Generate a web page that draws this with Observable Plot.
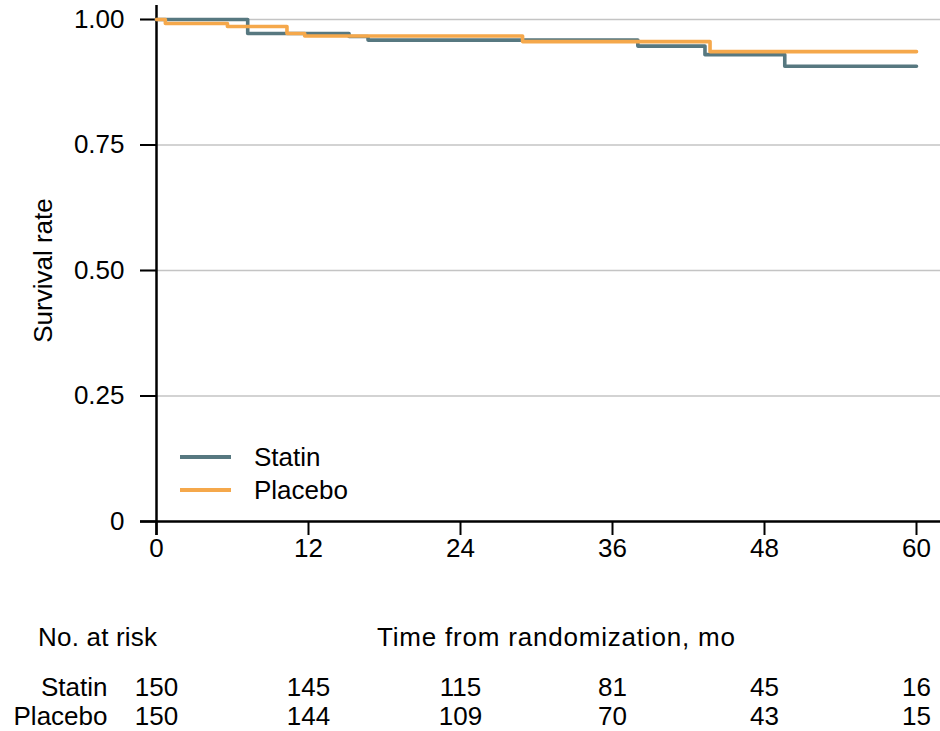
<!DOCTYPE html>
<html>
<head>
<meta charset="utf-8">
<script src="https://cdn.jsdelivr.net/npm/d3@7"></script>
<script src="https://cdn.jsdelivr.net/npm/@observablehq/plot@0.6"></script>
<style>
  body { margin: 0; background: white; }
  #wrap { position: relative; width: 940px; height: 731px; font-family: 'Liberation Sans', Arial, sans-serif; color: black; }
  .lbl { position: absolute; font-size: 26px; line-height: 30px; white-space: nowrap; }
  .leg { position: absolute; height: 4px; width: 51px; left: 180px; }
</style>
</head>
<body>
<div id="wrap">
  <div id="chart"></div>
  <div id="risk"></div>
</div>
<script>
// ---- data ----
const groups = ["Statin", "Placebo"];
const colors = ["#577880", "#f5a84b"];

const statinTime = [0, 7.2, 15.2, 16.7, 38.0, 43.3, 49.6, 60];
const statinSurv = [1.0, 0.972, 0.966, 0.959, 0.947, 0.930, 0.907, 0.907];

const placeboTime = [0, 0.7, 5.6, 10.3, 11.7, 28.9, 43.7, 60];
const placeboSurv = [1.0, 0.992, 0.986, 0.972, 0.967, 0.956, 0.936, 0.936];

const xTicks = [0, 12, 24, 36, 48, 60];
const yTicks = [0, 0.25, 0.5, 0.75, 1];
const gridTicks = [0.25, 0.5, 0.75, 1];

const riskTimes = [0, 12, 24, 36, 48, 60];
const statinRisk = [150, 145, 115, 81, 45, 16];
const placeboRisk = [150, 144, 109, 70, 43, 15];

const yLabel = "Survival rate";
const xLabel = "Time from randomization, mo";
const riskLabel = "No. at risk";

// ---- build tables ----
const curves = [
  ...statinTime.map((t, i) => ({group: "Statin", time: t, surv: statinSurv[i]})),
  ...placeboTime.map((t, i) => ({group: "Placebo", time: t, surv: placeboSurv[i]}))
];
const risk = [
  ...riskTimes.map((t, i) => ({group: "Statin", time: t, n: statinRisk[i]})),
  ...riskTimes.map((t, i) => ({group: "Placebo", time: t, n: placeboRisk[i]}))
];

const font = "'Liberation Sans', Arial, sans-serif";
const xScale = {domain: [0, 60], range: [156, 916]};

const chart = Plot.plot({
  width: 940,
  height: 600,
  marginLeft: 140,
  marginRight: 0,
  marginTop: 5,
  marginBottom: 65,
  style: {fontFamily: font, fontSize: "26px", color: "black", background: "white"},
  x: xScale,
  y: {domain: [0, 1], range: [521, 19]},
  color: {domain: groups, range: colors},
  marks: [
    Plot.gridY(gridTicks, {stroke: "#c4c4c4", strokeOpacity: 1, strokeWidth: 1.5}),
    Plot.axisY(yTicks, {
      anchor: "left", dx: 16, tickSize: 16, tickPadding: 16, strokeWidth: 2, stroke: "black",
      tickFormat: d => d === 0 ? "0" : d3.format(".2f")(d),
      label: yLabel, labelAnchor: "center", labelArrow: "none", labelOffset: 107,
      fill: "black", fontSize: 26
    }),
    Plot.axisX(xTicks, {
      anchor: "bottom", dy: -14, tickSize: 14, tickPadding: 3, strokeWidth: 2, stroke: "black",
      label: null, fill: "black", fontSize: 26
    }),
    Plot.ruleX([0], {stroke: "black", strokeWidth: 2.5}),
    Plot.ruleY([0], {stroke: "black", strokeWidth: 2.5}),
    Plot.line(curves.filter(d => d.group === "Statin"), {x: "time", y: "surv", stroke: "group", strokeWidth: 3.6, curve: "step-after"}),
    Plot.line(curves.filter(d => d.group === "Placebo"), {x: "time", y: "surv", stroke: "group", strokeWidth: 3.6, curve: "step-after"})
  ]
});
document.getElementById("chart").appendChild(chart);

const riskPlot = Plot.plot({
  width: 940,
  height: 131,
  marginLeft: 140,
  marginRight: 0,
  marginTop: 0,
  marginBottom: 0,
  style: {fontFamily: font, fontSize: "26px", color: "black", background: "white", overflow: "visible"},
  x: {...xScale, axis: null},
  y: {type: "point", domain: groups, range: [87, 116], padding: 0},
  marks: [
    Plot.axisY({anchor: "left", tickSize: 0, tickPadding: 33, label: null, fill: "black", fontSize: 26}),
    Plot.text(risk, {x: "time", y: "group", text: "n", textAnchor: "middle", fill: "black", fontSize: 26})
  ]
});
document.getElementById("risk").appendChild(riskPlot);

// ---- HTML labels and legend ----
const wrap = document.getElementById("wrap");
function addLabel(text, left, top, spacing) {
  const d = document.createElement("div");
  d.className = "lbl"; d.textContent = text;
  d.style.left = left + "px"; d.style.top = top + "px";
  if (spacing) d.style.letterSpacing = spacing + "px";
  wrap.appendChild(d);
}
addLabel(riskLabel, 38, 622, 0.2);
addLabel(xLabel, 377, 622, 0.8);
groups.forEach((g, i) => {
  const line = document.createElement("div");
  line.className = "leg";
  line.style.top = (455 + i * 33) + "px";
  line.style.background = colors[i];
  wrap.appendChild(line);
  addLabel(g, 254, 442 + i * 33);
});
</script>
</body>
</html>
